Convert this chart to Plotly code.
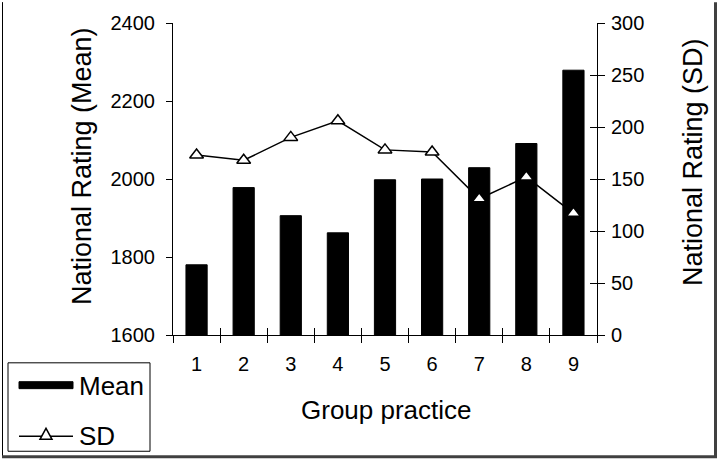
import plotly.graph_objects as go

# ---------------- data ----------------
groups = ["1", "2", "3", "4", "5", "6", "7", "8", "9"]
mean_values = [1780, 1978, 1906, 1862, 1998, 2000, 2029, 2091, 2279]
sd_values = [173, 168, 190, 206, 178, 176, 131, 152, 117]
left_ticks = [1600, 1800, 2000, 2200, 2400]
right_ticks = [0, 50, 100, 150, 200, 250, 300]

# ---------------- geometry helpers (pixel -> paper) ----------------
W, H = 717, 459
L, R, T, B = 173, 597, 21, 335


def px(x):
    return (x - L) / (R - L)


def py(y):
    return (B - y) / (B - T)


FONT = "Liberation Sans, Arial, sans-serif"
TICK_SIZE = 20
TITLE_SIZE = 27

fig = go.Figure()

fig.add_bar(
    x=groups, y=mean_values, name="Mean", width=0.45,
    marker=dict(color="black", line=dict(color="black", width=1)),
    xaxis="x", yaxis="y", showlegend=False,
)
fig.add_scatter(
    x=groups, y=sd_values, name="SD", mode="lines+markers",
    line=dict(color="black", width=1.5),
    marker=dict(symbol="triangle-up", size=12, color="white",
                line=dict(color="black", width=1.5)),
    xaxis="x", yaxis="y2", showlegend=False,
)
# invisible helper trace so the overlay axes (inside tick halves) are drawn
fig.add_scatter(
    x=groups, y=sd_values, mode="none", hoverinfo="skip",
    xaxis="x2", yaxis="y3", showlegend=False,
)

axis_common = dict(showgrid=False, zeroline=False, tickcolor="black",
                   linecolor="black", linewidth=1,
                   tickfont=dict(family=FONT, size=TICK_SIZE, color="black"))

fig.update_layout(
    width=W, height=H, autosize=False,
    margin=dict(l=L, r=W - R, t=T, b=H - B, pad=0),
    paper_bgcolor="white", plot_bgcolor="white",
    font=dict(family=FONT, color="black"),
    bargap=0.5,
    xaxis=dict(type="category", range=[-0.5, len(groups) - 0.5],
               tickson="boundaries", ticks="outside", ticklen=7,
               ticklabelstandoff=11,
               showline=True, **axis_common),
    xaxis2=dict(type="category", range=[-0.5, len(groups) - 0.5],
                overlaying="x", anchor="y", side="bottom",
                tickson="boundaries", ticks="inside", ticklen=7,
                showticklabels=False, showline=False, **axis_common),
    yaxis=dict(range=[left_ticks[0], left_ticks[-1]], tickmode="array",
               tickvals=left_ticks, ticks="outside", ticklen=6,
               ticklabelstandoff=7,
               showline=True, **axis_common),
    yaxis2=dict(range=[right_ticks[0], right_ticks[-1]], tickmode="array",
                tickvals=right_ticks, ticks="outside", ticklen=7,
                ticklabelstandoff=2,
                overlaying="y", side="right", anchor="x",
                showline=True, **axis_common),
    yaxis3=dict(range=[right_ticks[0], right_ticks[-1]], tickmode="array",
                tickvals=right_ticks, ticks="inside", ticklen=7,
                overlaying="y", side="right", anchor="x",
                showticklabels=False, showline=False, **axis_common),
)

# axis titles
title_font = dict(family=FONT, size=TITLE_SIZE, color="black")
legend_font = dict(family=FONT, size=26, color="black")
fig.add_annotation(text="National Rating (Mean)", xref="paper", yref="paper",
                   x=px(82), y=py(165), textangle=-90, showarrow=False,
                   xanchor="center", yanchor="middle", font=title_font)
fig.add_annotation(text="National Rating (SD)", xref="paper", yref="paper",
                   x=px(692.5), y=py(161.5), textangle=-90, showarrow=False,
                   xanchor="center", yanchor="middle", font=title_font)
fig.add_annotation(text="Group practice", xref="paper", yref="paper",
                   x=px(386), y=py(410), showarrow=False,
                   xanchor="center", yanchor="middle", font=legend_font)

# legend (drawn manually to match the boxed legend)
shapes = []
shapes.append(dict(type="rect", xref="paper", yref="paper",
                   x0=px(8), x1=px(150), y0=py(452), y1=py(363),
                   line=dict(color="black", width=1), fillcolor="white"))
shapes.append(dict(type="rect", xref="paper", yref="paper",
                   x0=px(19), x1=px(73), y0=py(389), y1=py(382),
                   line=dict(color="black", width=1), fillcolor="black"))
shapes.append(dict(type="line", xref="paper", yref="paper",
                   x0=px(19), x1=px(73), y0=py(437), y1=py(437),
                   line=dict(color="black", width=1.5)))
tri = "M {} {} L {} {} L {} {} Z".format(px(40), py(440), px(52), py(440),
                                        px(46), py(429))
shapes.append(dict(type="path", xref="paper", yref="paper", path=tri,
                   line=dict(color="black", width=1.5), fillcolor="white"))
fig.add_annotation(text="Mean", xref="paper", yref="paper", x=px(77),
                   y=py(386), xanchor="left", yanchor="middle",
                   showarrow=False, font=legend_font)
fig.add_annotation(text="SD", xref="paper", yref="paper", x=px(77),
                   y=py(437), xanchor="left", yanchor="middle",
                   showarrow=False, font=legend_font)

# outer frame
shapes.append(dict(type="line", xref="paper", yref="paper",
                   x0=px(2.5), x1=px(2.5), y0=py(0), y1=py(457),
                   line=dict(color="black", width=1)))
shapes.append(dict(type="line", xref="paper", yref="paper",
                   x0=px(715.5), x1=px(715.5), y0=py(0), y1=py(458),
                   line=dict(color="#404040", width=3)))
shapes.append(dict(type="line", xref="paper", yref="paper",
                   x0=px(2), x1=px(717), y0=py(457.5), y1=py(457.5),
                   line=dict(color="#404040", width=3)))
fig.update_layout(shapes=shapes)

fig.write_html(
    "out.html",
    config={"displayModeBar": False},
    post_script="document.body.style.margin='0';"
                "document.body.style.overflow='hidden';",
)
